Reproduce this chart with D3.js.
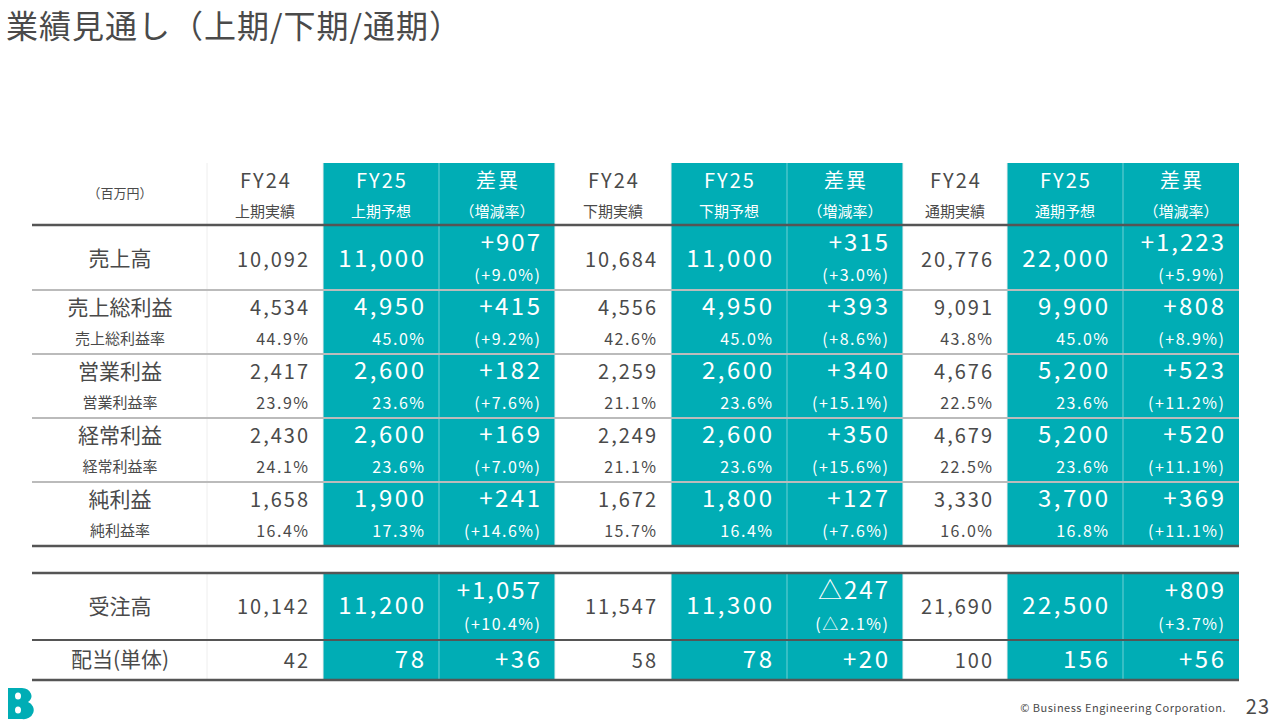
<!DOCTYPE html>
<html><head><meta charset="utf-8">
<script src="https://cdn.jsdelivr.net/npm/d3@7"></script>
<style>
body{margin:0;background:#fff;}
text{font-family:"Noto Sans CJK JP","Noto Sans",sans-serif;}
</style></head>
<body><svg width="1280" height="720"></svg>
<script>
// column headers
var colTop = ["FY24","FY25","差異","FY24","FY25","差異","FY24","FY25","差異"];
var colSub = ["上期実績","上期予想","（増減率）","下期実績","下期予想","（増減率）","通期実績","通期予想","（増減率）"];
var colEdges = [207,323,439,555,671,787,903,1007,1123,1239];
var teal = [false,true,true,false,true,true,false,true,true];

// row labels
var mainLabels = ["売上高","売上総利益","営業利益","経常利益","純利益"];
var subLabels = [null,"売上総利益率","営業利益率","経常利益率","純利益率"];
var mainValues = [
  ["10,092","11,000","+907","10,684","11,000","+315","20,776","22,000","+1,223"],
  ["4,534","4,950","+415","4,556","4,950","+393","9,091","9,900","+808"],
  ["2,417","2,600","+182","2,259","2,600","+340","4,676","5,200","+523"],
  ["2,430","2,600","+169","2,249","2,600","+350","4,679","5,200","+520"],
  ["1,658","1,900","+241","1,672","1,800","+127","3,330","3,700","+369"]
];
var subValues = [
  [null,null,"(+9.0%)",null,null,"(+3.0%)",null,null,"(+5.9%)"],
  ["44.9%","45.0%","(+9.2%)","42.6%","45.0%","(+8.6%)","43.8%","45.0%","(+8.9%)"],
  ["23.9%","23.6%","(+7.6%)","21.1%","23.6%","(+15.1%)","22.5%","23.6%","(+11.2%)"],
  ["24.1%","23.6%","(+7.0%)","21.1%","23.6%","(+15.6%)","22.5%","23.6%","(+11.1%)"],
  ["16.4%","17.3%","(+14.6%)","15.7%","16.4%","(+7.6%)","16.0%","16.8%","(+11.1%)"]
];
var orderLabel = "受注高";
var orderValues = ["10,142","11,200","+1,057","11,547","11,300","△247","21,690","22,500","+809"];
var orderRates = [null,null,"(+10.4%)",null,null,"(△2.1%)",null,null,"(+3.7%)"];
var divLabel = "配当(単体)";
var divValues = ["42","78","+36","58","78","+20","100","156","+56"];

var svg = d3.select("svg");
var TEAL = "#00adb5", DARK = "#4a4a4a";

svg.append("text").attr("x",6).attr("y",38).attr("font-size",32).attr("letter-spacing",1).attr("fill",DARK)
  .text("業績見通し（上期/下期/通期）");

// teal column backgrounds
var segs = [[163,546],[573,680]];
segs.forEach(function(s){
  colEdges.slice(0,-1).forEach(function(x,i){
    if(teal[i]) svg.append("rect").attr("x",x).attr("y",s[0]).attr("width",colEdges[i+1]-x).attr("height",s[1]-s[0]).attr("fill",TEAL);
  });
  colEdges.slice(1,-1).forEach(function(x,i){
    var tl = teal[i] && teal[i+1];
    svg.append("line").attr("x1",x).attr("x2",x).attr("y1",s[0]).attr("y2",s[1])
      .attr("stroke", tl ? "#6fd0d4" : "#eee").attr("stroke-width",1);
  });
  svg.append("line").attr("x1",207).attr("x2",207).attr("y1",s[0]).attr("y2",s[1]).attr("stroke","#eee");
});

function cell(i,y,txt,size,ls){
  if(txt==null) return;
  svg.append("text").attr("x",colEdges[i+1]-15+ls).attr("y",y).attr("text-anchor","end")
    .attr("font-size",size).attr("letter-spacing",ls).attr("fill",teal[i]?"#fff":DARK).text(txt);
}
function hline(y,w,c){ svg.append("line").attr("x1",32).attr("x2",1239).attr("y1",y).attr("y2",y).attr("stroke",c).attr("stroke-width",w); }

// header
svg.append("text").attr("x",120).attr("y",198).attr("text-anchor","middle").attr("font-size",13).attr("fill",DARK).text("（百万円）");
colTop.forEach(function(t,i){
  var cx=(colEdges[i]+colEdges[i+1])/2;
  svg.append("text").attr("x",cx+1).attr("y",188).attr("text-anchor","middle").attr("font-size",20).attr("letter-spacing",2).attr("fill",teal[i]?"#fff":DARK).text(t);
  svg.append("text").attr("x",cx).attr("y",217).attr("text-anchor","middle").attr("font-size",15).attr("fill",teal[i]?"#fff":DARK).text(colSub[i]);
});
hline(225,2.5,"#555");

var rowY = [225,290,354,418,482,546];
mainLabels.forEach(function(lab,r){
  var y0=rowY[r], y1=rowY[r+1];
  if(r==0){
    svg.append("text").attr("x",120).attr("y",(y0+y1)/2+8).attr("text-anchor","middle").attr("font-size",21).attr("fill",DARK).text(lab);
    mainValues[r].forEach(function(v,i){
      if(i%3==2) cell(i,y0+26,v,24,2); else cell(i,(y0+y1)/2+9,v,i%3==1?24:20,i%3==1?2.5:2);
    });
    subValues[r].forEach(function(v,i){ cell(i,y0+56,v,16,1.5); });
  } else {
    svg.append("text").attr("x",120).attr("y",y0+25).attr("text-anchor","middle").attr("font-size",21).attr("fill",DARK).text(lab);
    svg.append("text").attr("x",120).attr("y",y0+54).attr("text-anchor","middle").attr("font-size",15).attr("fill",DARK).text(subLabels[r]);
    mainValues[r].forEach(function(v,i){ cell(i,y0+25,v,i%3==0?20:24,i%3==0?2:2.5); });
    subValues[r].forEach(function(v,i){ cell(i,y0+55,v,16,1.5); });
  }
  if(r<4) hline(y1,2,"#bbb");
});
hline(546,2.5,"#555");
hline(573,2.5,"#555");

svg.append("text").attr("x",120).attr("y",614).attr("text-anchor","middle").attr("font-size",21).attr("fill",DARK).text(orderLabel);
orderValues.forEach(function(v,i){
  if(i%3==2) cell(i,599,v,24,2); else cell(i,614,v,i%3==1?24:20,i%3==1?2.5:2);
});
orderRates.forEach(function(v,i){ cell(i,630,v,16,1.5); });
hline(640,2,"#555");
svg.append("text").attr("x",120).attr("y",667).attr("text-anchor","middle").attr("font-size",21).attr("fill",DARK).text(divLabel);
divValues.forEach(function(v,i){ cell(i,668,v,i%3==0?20:24,i%3==0?2:2.5); });
hline(680,2.5,"#555");

// footer
var logo = svg.append("g").attr("transform","translate(8,688)");
logo.append("path").attr("d","M0,0 H14 a10,8 0 0 1 6,14 a10,9 0 0 1 -6,17 H0 Z").attr("fill",TEAL);
logo.append("ellipse").attr("cx",10).attr("cy",8).attr("rx",3).attr("ry",3.5).attr("fill","#fff");
logo.append("ellipse").attr("cx",10).attr("cy",22).attr("rx",3).attr("ry",3.5).attr("fill","#fff");
svg.append("text").attr("x",1226).attr("y",712).attr("text-anchor","end").attr("font-size",11).attr("letter-spacing",0.5).attr("fill",DARK).text("© Business Engineering Corporation.");
svg.append("text").attr("x",1270).attr("y",714).attr("text-anchor","end").attr("font-size",20).attr("letter-spacing",1).attr("fill",DARK).text("23");
</script></body></html>
